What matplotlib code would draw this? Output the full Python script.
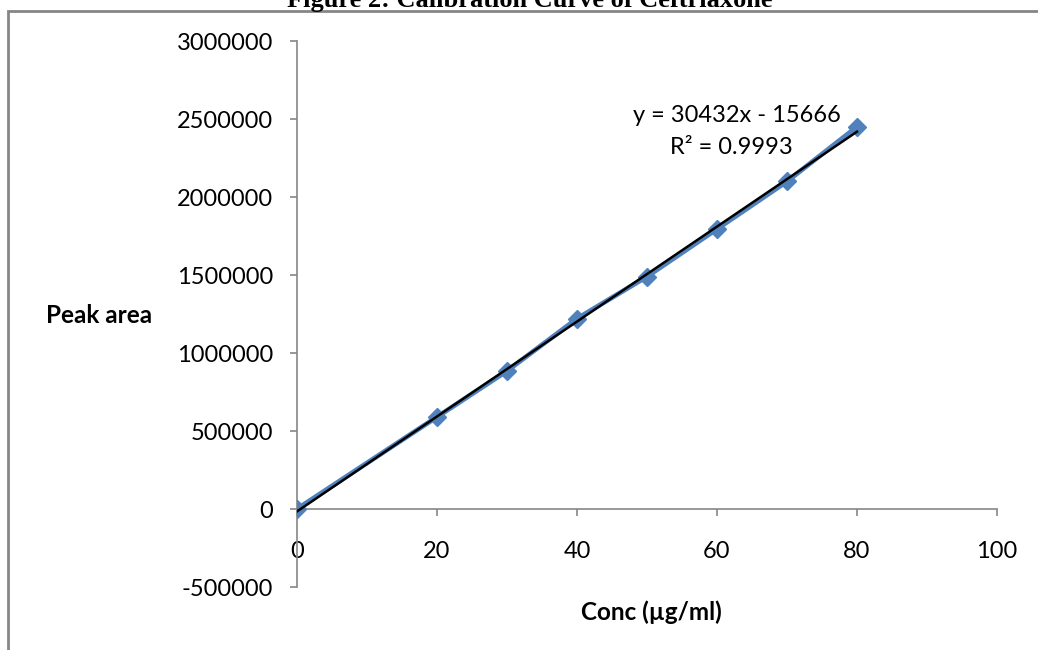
import matplotlib
matplotlib.use("Agg")
from matplotlib import pyplot as plt
from matplotlib.patches import Rectangle
import numpy as np

# data
conc = [0, 20, 30, 40, 50, 60, 70, 80]
peak_area = [0, 590000, 885000, 1220000, 1490000, 1795000, 2100000, 2450000]

# trendline shown on the chart
slope = 30432
intercept = -15666
r_squared = 0.9993

x_ticks = [0, 20, 40, 60, 80, 100]
y_ticks = [-500000, 0, 500000, 1000000, 1500000, 2000000, 2500000, 3000000]

blue = "#4F81BD"
grey = "#868686"
font = "Lato"

fig = plt.figure(figsize=(10.38, 6.5), dpi=100)
ax = fig.add_axes([0.2861, 0.0969, 0.6744, 0.84])

ax.plot(conc, peak_area, color=blue, linewidth=3.5, marker="D", markersize=9.5, zorder=3)

fit_x = np.array([conc[0], conc[-1]])
ax.plot(fit_x, slope * fit_x + intercept, color="black", linewidth=1.8, zorder=4)

# axes cross at zero; set spines first since it resets the ticks
ax.spines["top"].set_visible(False)
ax.spines["right"].set_visible(False)
ax.spines["bottom"].set_position(("data", 0))
for s in ["left", "bottom"]:
    ax.spines[s].set_color(grey)
    ax.spines[s].set_linewidth(1.2)

ax.set_xlim(0, 100)
ax.set_ylim(-500000, 3000000)
ax.set_xticks(x_ticks)
ax.set_yticks(y_ticks)
ax.set_xticklabels([str(v) for v in x_ticks], fontfamily=font, fontsize=17)
ax.set_yticklabels([str(v) for v in y_ticks], fontfamily=font, fontsize=17)
ax.tick_params(axis="both", direction="out", length=5, width=1.2, color=grey)
ax.tick_params(axis="x", pad=18)
ax.tick_params(axis="y", pad=12)

ax.text(62.9, 2525000, f"y = {slope}x - {abs(intercept)}", fontfamily=font,
        fontsize=17, ha="center", va="center")
ax.text(62.1, 2320000, f"R² = {r_squared}", fontfamily=font,
        fontsize=17, ha="center", va="center")

fig.text(0.0954, 0.515, "Peak area", fontfamily=font, fontsize=17.5,
         fontweight="bold", ha="center", va="center")
fig.text(0.628, 0.058, "Conc (µg/ml)", fontfamily=font, fontsize=17.5,
         fontweight="bold", ha="center", va="center")

fig.text(0.5106, 1 - 7 / 650, "Figure 2: Calibration Curve of Ceftriaxone",
         fontfamily="Liberation Serif", fontsize=19, fontweight="bold",
         ha="center", va="baseline")

# outer chart border (cut off at right and bottom)
fig.patches.append(Rectangle((8 / 1038, -0.1), 1.2, 1.1 - 11 / 650,
                             transform=fig.transFigure, fill=False,
                             edgecolor=grey, linewidth=2))

fig.savefig("out.png", dpi=100)
